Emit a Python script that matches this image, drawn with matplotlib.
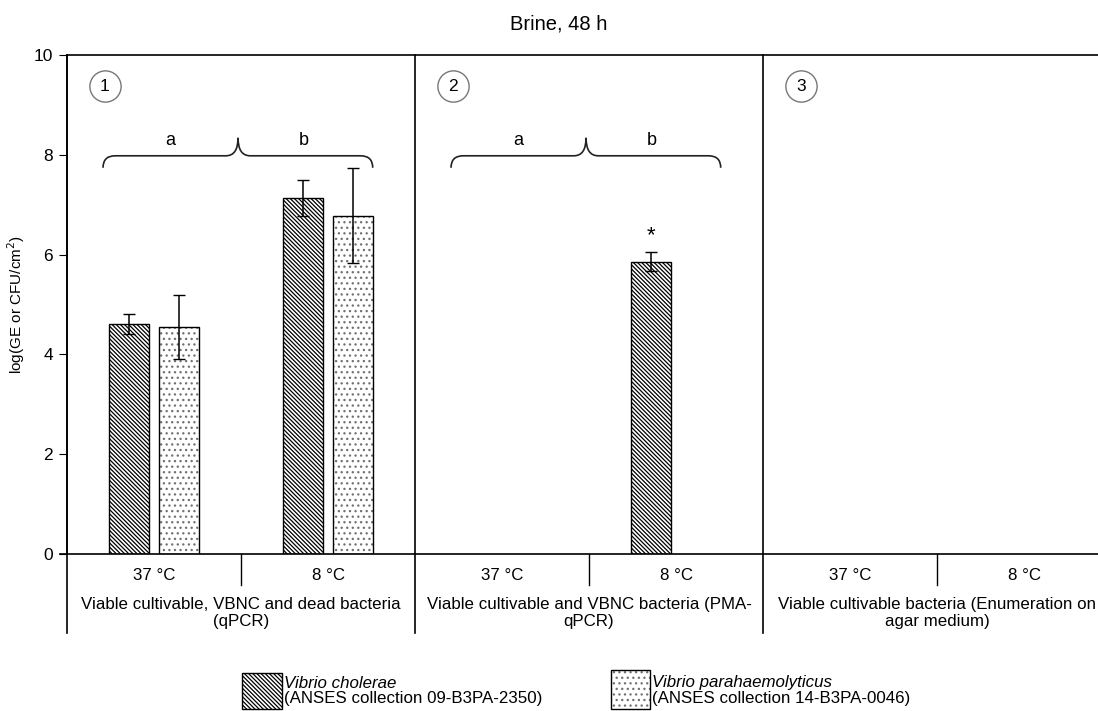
import numpy as np
import matplotlib
matplotlib.use('Agg')
import matplotlib.pyplot as plt
from matplotlib.path import Path
from matplotlib.patches import PathPatch, Rectangle

plt.rcParams['font.family'] = ['Liberation Sans', 'DejaVu Sans']
plt.rcParams['hatch.linewidth'] = 0.9

# data
temps = ['37 °C', '8 °C']
methods = ['Viable cultivable, VBNC and dead bacteria\n(qPCR)',
           'Viable cultivable and VBNC bacteria (PMA-\nqPCR)',
           'Viable cultivable bacteria (Enumeration on\nagar medium)']
# one value per (method, temperature), nan = not detected
vc_mean = [4.6, 7.14, np.nan, 5.86, np.nan, np.nan]
vc_err = [0.2, 0.36, np.nan, 0.19, np.nan, np.nan]
vp_mean = [4.55, 6.78, np.nan, np.nan, np.nan, np.nan]
vp_err = [0.65, 0.95, np.nan, np.nan, np.nan, np.nan]
brace_letters = ['a', 'b']
stars = [np.nan, np.nan, np.nan, '*', np.nan, np.nan]

vc_hatch = '\\' * 8
vp_hatch = '...'
dot_color = '#707070'

fig = plt.figure(figsize=(10.98, 7.11), dpi=100)
W, H = 1098, 711
ax = fig.add_axes([67 / W, (H - 554) / H, (W - 67) / W, (554 - 55) / H])

x = np.arange(len(vc_mean)) + 0.5
bw = 0.226
off = 0.143
ax.bar(x - off, vc_mean, bw, color='white', edgecolor='black', hatch=vc_hatch, linewidth=1)
# dotted bars: light dots, black outline
ax.bar(x + off, vp_mean, bw, color='white', edgecolor=dot_color, hatch=vp_hatch, linewidth=0)
ax.bar(x + off, vp_mean, bw, fill=False, edgecolor='black', linewidth=1)
ax.errorbar(x - off, vc_mean, yerr=vc_err, fmt='none', ecolor='black', capsize=4, elinewidth=1.1)
ax.errorbar(x + off, vp_mean, yerr=vp_err, fmt='none', ecolor='black', capsize=4, elinewidth=1.1)
for xi, v, e, s in zip(x, vc_mean, vc_err, stars):
    if isinstance(s, str):
        ax.text(xi - off, v + e + 0.32, s, ha='center', va='center', fontsize=16)

ax.set_xlim(0, (W - 67) / 174)
ax.set_ylim(0, 10)
ax.set_yticks([0, 2, 4, 6, 8, 10])
ax.tick_params(axis='y', direction='out', length=6, pad=4, labelsize=12.5)
ax.set_xticks([])
ax.spines['right'].set_visible(False)
for s in ['left', 'top', 'bottom']:
    ax.spines[s].set_linewidth(1.2)
ax.set_ylabel('log(GE or CFU/cm$^2$)', fontsize=11)
ax.yaxis.set_label_coords((27 - 67) / (W - 67), 0.5)

# panel dividers and category axis below
for d in [0, 2, 4]:
    ax.plot([d, d], [-1.58, 10], color='black', lw=1.2, clip_on=False)
for g in [1, 3, 5]:
    ax.plot([g, g], [0, -0.62], color='black', lw=1, clip_on=False)
ax.plot([-0.04, 0], [0, 0], color='black', lw=1.2, clip_on=False)
for i, xi in enumerate(x):
    ax.text(xi, -0.44, temps[i % 2], ha='center', va='center', fontsize=12.2)
for p, m in enumerate(methods):
    ax.text(2 * p + 1, -1.18, m, ha='center', va='center', fontsize=12.2, linespacing=1.2)

# circled panel numbers
for p in range(3):
    cx = 0.218 + 2 * p
    ax.plot(cx, 9.38, marker='o', ms=22.5, mfc='white', mec='#777777', mew=1, clip_on=False)
    ax.text(cx, 9.36, str(p + 1), ha='center', va='center', fontsize=12.5)


def brace(x0, x1, xc, yb, yt, yc):
    rx = 0.07
    verts = [(x0, yt), (x0, yb), (x0 + rx, yb),
             (xc - rx, yb), (xc, yb), (xc, yc),
             (xc, yb), (xc + rx, yb),
             (x1 - rx, yb), (x1, yb), (x1, yt)]
    codes = [Path.MOVETO, Path.CURVE3, Path.CURVE3,
             Path.LINETO, Path.CURVE3, Path.CURVE3,
             Path.CURVE3, Path.CURVE3,
             Path.LINETO, Path.CURVE3, Path.CURVE3]
    ax.add_patch(PathPatch(Path(verts, codes), fill=False, lw=1.2, color='#222222'))


for p in range(2):
    b0 = 2 * p
    brace(b0 + 0.207, b0 + 1.757, b0 + 0.983, 7.98, 7.74, 8.34)
    ax.text(b0 + 0.592, 8.28, brace_letters[0], ha='center', va='center', fontsize=13)
    ax.text(b0 + 1.362, 8.28, brace_letters[1], ha='center', va='center', fontsize=13)

fig.text(559 / W, 1 - 24 / H, 'Brine, 48 h', ha='center', va='center', fontsize=14.5)

# legend
leg = [(242, 282, 673, vc_hatch, 'black', 'Vibrio cholerae', '(ANSES collection 09-B3PA-2350)'),
       (611, 650, 670, vp_hatch, dot_color, 'Vibrio parahaemolyticus', '(ANSES collection 14-B3PA-0046)')]
for lx0, lx1, ly, h, hc, name, coll in leg:
    fig.add_artist(Rectangle((lx0 / W, 1 - 709 / H), (lx1 - lx0) / W, (709 - ly) / H,
                             transform=fig.transFigure, facecolor='white',
                             edgecolor=hc, hatch=h, lw=0))
    fig.add_artist(Rectangle((lx0 / W, 1 - 709 / H), (lx1 - lx0) / W, (709 - ly) / H,
                             transform=fig.transFigure, fill=False,
                             edgecolor='black', lw=1))
    fig.text((lx1 + 2) / W, 1 - 683 / H, name, style='italic', ha='left', va='center', fontsize=12.2)
    fig.text((lx1 + 2) / W, 1 - 699 / H, coll, ha='left', va='center', fontsize=12.2)

fig.savefig('out.png', dpi=100)
